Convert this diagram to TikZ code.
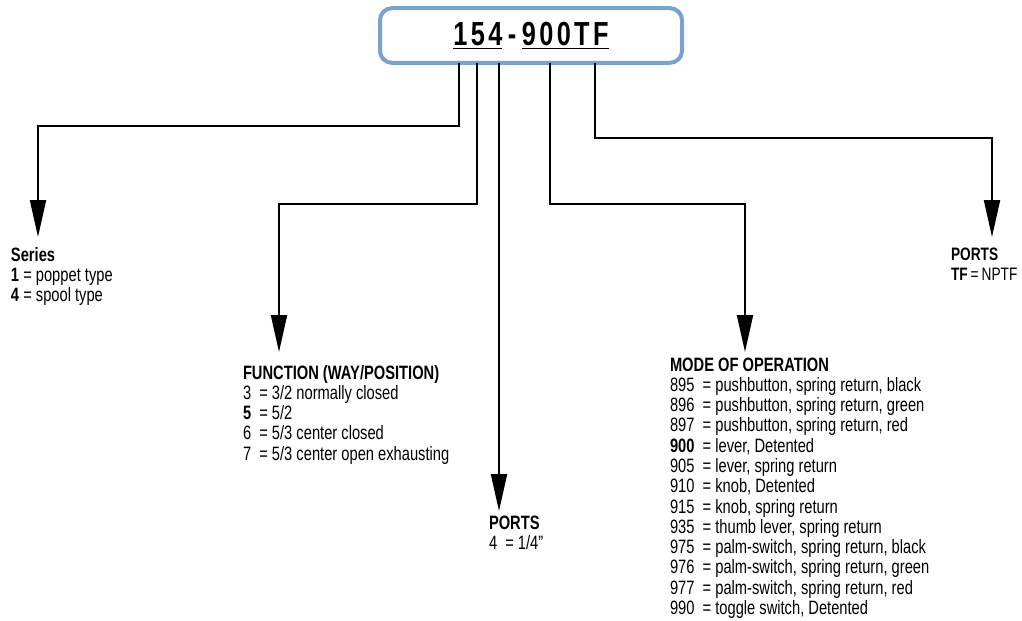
\documentclass[tikz,border=0pt]{standalone}
\usepackage{fontspec}
\setmainfont{Liberation Sans}[FakeStretch=0.76]
\usetikzlibrary{arrows.meta}
\definecolor{boxblue}{RGB}{121,163,204}
\tikzset{every picture/.style={line width=1.5pt}}
\tikzset{
	drop/.style={line width=1.5pt, -{Triangle[length=27.75pt,width=12pt]}},
	legend/.style={anchor=north west, inner sep=0pt, align=left, font=\fontsize{14.5}{15.2}\selectfont},
	codebox/.style={draw=boxblue, line width=3pt, rounded corners=9pt, fill=white, minimum width=226.5pt, minimum height=41pt}
}
\begin{document}
\begin{tikzpicture}[x=0.75pt,y=0.75pt,yscale=-1,xscale=1]
	\useasboundingbox (0,0) rectangle (1022,621);

	%Shape: Rounded Rectangle [id:code]
	\node[codebox] (code) at (531,35.5) {\fontsize{25}{28}\selectfont\bfseries\addfontfeature{LetterSpace=10}$\underline{\hbox{154}}$\,-\,$\underline{\hbox{900TF}}$};

	% start points on the box
	\coordinate (s1) at (459,63);
	\coordinate (s2) at (477,63);
	\coordinate (s3) at (499,63);
	\coordinate (s4) at (550,63);
	\coordinate (s5) at (595,63);
	% arrow tips
	\coordinate (t1) at (38,237);
	\coordinate (t2) at (279,352);
	\coordinate (t3) at (499,511);
	\coordinate (t4) at (745,352);
	\coordinate (t5) at (992,237);

	%Straight Lines [id:series]
	\draw[drop] (s1) -- ++(0,63) -| (t1);
	%Straight Lines [id:function]
	\draw[drop] (s2) -- ++(0,141) -| (t2);
	%Straight Lines [id:ports]
	\draw[drop] (s3) -- (t3);
	%Straight Lines [id:mode]
	\draw[drop] (s4) -- ++(0,141) -| (t4);
	%Straight Lines [id:portsTF]
	\draw[drop] (s5) -- ++(0,75) -| (t5);

	% Text Node
	\node[legend] (series) at (10,246) {\begin{tabular}{@{}l@{\ = }l@{}}
		\multicolumn{2}{@{}l@{}}{\bfseries Series}\\
		\bfseries 1 & poppet type\\
		\bfseries 4 & spool type
	\end{tabular}};
	% Text Node
	\node[legend] (function) at (242,364) {\begin{tabular}{@{}l@{\ \ = }l@{}}
		\multicolumn{2}{@{}l@{}}{\bfseries FUNCTION (WAY/POSITION)}\\
		3 & 3/2 normally closed\\
		\bfseries 5 & 5/2\\
		6 & 5/3 center closed\\
		7 & 5/3 center open exhausting
	\end{tabular}};
	% Text Node
	\node[legend] (ports) at (488,514) {\begin{tabular}{@{}l@{\ \ = }l@{}}
		\multicolumn{2}{@{}l@{}}{\bfseries PORTS}\\
		4 & 1/4”
	\end{tabular}};
	% Text Node
	\node[legend] (mode) at (669,356) {\begin{tabular}{@{}l@{\ \ = }l@{}}
		\multicolumn{2}{@{}l@{}}{\bfseries MODE OF OPERATION}\\
		895 & pushbutton, spring return, black\\
		896 & pushbutton, spring return, green\\
		897 & pushbutton, spring return, red\\
		\bfseries 900 & lever, Detented\\
		905 & lever, spring return\\
		910 & knob, Detented\\
		915 & knob, spring return\\
		935 & thumb lever, spring return\\
		975 & palm-switch, spring return, black\\
		976 & palm-switch, spring return, green\\
		977 & palm-switch, spring return, red\\
		990 & toggle switch, Detented
	\end{tabular}};
	% Text Node
	\node[legend, font=\fontsize{13.5}{15.2}\selectfont] (portsTF) at (950,245) {\begin{tabular}{@{}l@{\,=\,}l@{}}
		\multicolumn{2}{@{}l@{}}{\bfseries PORTS}\\
		\bfseries TF & NPTF
	\end{tabular}};

\end{tikzpicture}
\end{document}
